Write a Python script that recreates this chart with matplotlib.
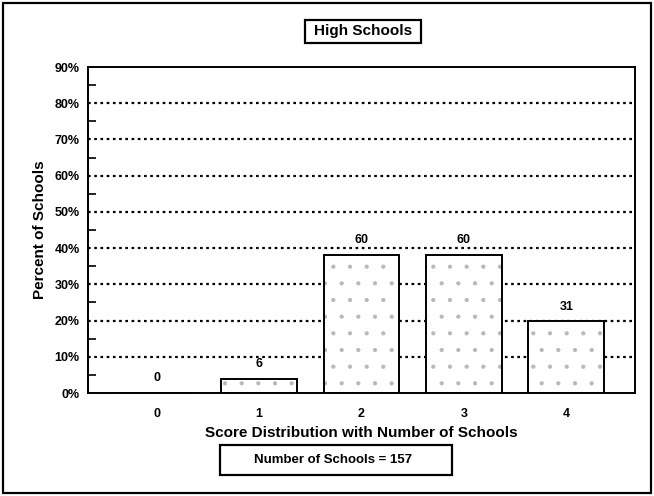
import matplotlib
matplotlib.use("Agg")
import matplotlib.pyplot as plt
from matplotlib.patches import Rectangle
from matplotlib.ticker import MultipleLocator, FuncFormatter

plt.rcParams['font.family'] = ['Liberation Sans', 'DejaVu Sans']
plt.rcParams['font.weight'] = 'bold'
plt.rcParams['hatch.color'] = '#b8b8b8'
plt.rcParams['hatch.linewidth'] = 0.6

categories = ['0', '1', '2', '3', '4']
counts = [0, 6, 60, 60, 31]
total_schools = 157
percents = [c / total_schools * 100 for c in counts]

W, H = 654, 496
fig = plt.figure(figsize=(6.54, 4.96), dpi=100)
ax = fig.add_axes([88 / W, 103 / H, (635 - 88) / W, (393 - 67) / H])

x = list(range(len(categories)))
ax.bar(x, percents, width=0.74, color='white', edgecolor='#b8b8b8', hatch='.', linewidth=0, zorder=2)
ax.bar(x, percents, width=0.74, fill=False, edgecolor='black', linewidth=1.4, zorder=3)

for xi, p, c in zip(x, percents, counts):
    ax.text(xi, p + 4.1, str(c), ha='center', va='center', fontsize=9, fontweight='bold')

ax.set_xlim(-0.67, 4.67)
ax.set_ylim(0, 90)
ax.set_xticks(x)
ax.set_xticklabels(categories, fontsize=9, fontweight='bold')
ax.tick_params(axis='x', length=0, pad=11)
ax.yaxis.set_major_locator(MultipleLocator(10))
ax.yaxis.set_minor_locator(MultipleLocator(5))
ax.yaxis.set_major_formatter(FuncFormatter(lambda v, p: f"{int(round(v))}%"))
ax.tick_params(axis='y', which='major', length=0, labelsize=9, pad=6)
ax.tick_params(axis='y', which='minor', direction='in', length=6, width=1.2)
for lbl in ax.get_yticklabels():
    lbl.set_fontweight('bold')

for g in range(10, 90, 10):
    ax.axhline(g, color='black', linestyle=(0, (1.2, 1.6)), linewidth=1.6, zorder=1)

for s in ax.spines.values():
    s.set_linewidth(1.4)

ax.set_ylabel('Percent of Schools', fontsize=11, fontweight='bold', labelpad=5)
ax.set_xlabel('Score Distribution with Number of Schools', fontsize=11, fontweight='bold', labelpad=4)

# title box
fig.patches.append(Rectangle((305 / W, 1 - 43 / H), 116 / W, 23 / H, transform=fig.transFigure,
                             facecolor='white', edgecolor='black', linewidth=1.6))
fig.text(363 / W, 1 - 31.5 / H, 'High Schools', ha='center', va='center', fontsize=11, fontweight='bold')

# count box
fig.patches.append(Rectangle((220 / W, 1 - 475 / H), 232 / W, 30 / H, transform=fig.transFigure,
                             facecolor='white', edgecolor='black', linewidth=1.6))
fig.text(333 / W, 1 - 460 / H, 'Number of Schools = 157', ha='center', va='center', fontsize=9.5, fontweight='bold')

fig.patches.append(Rectangle((0.005, 0.006), 0.99, 0.988, transform=fig.transFigure,
                             fill=False, edgecolor='black', linewidth=1.6))

fig.savefig('out.png', dpi=100)
